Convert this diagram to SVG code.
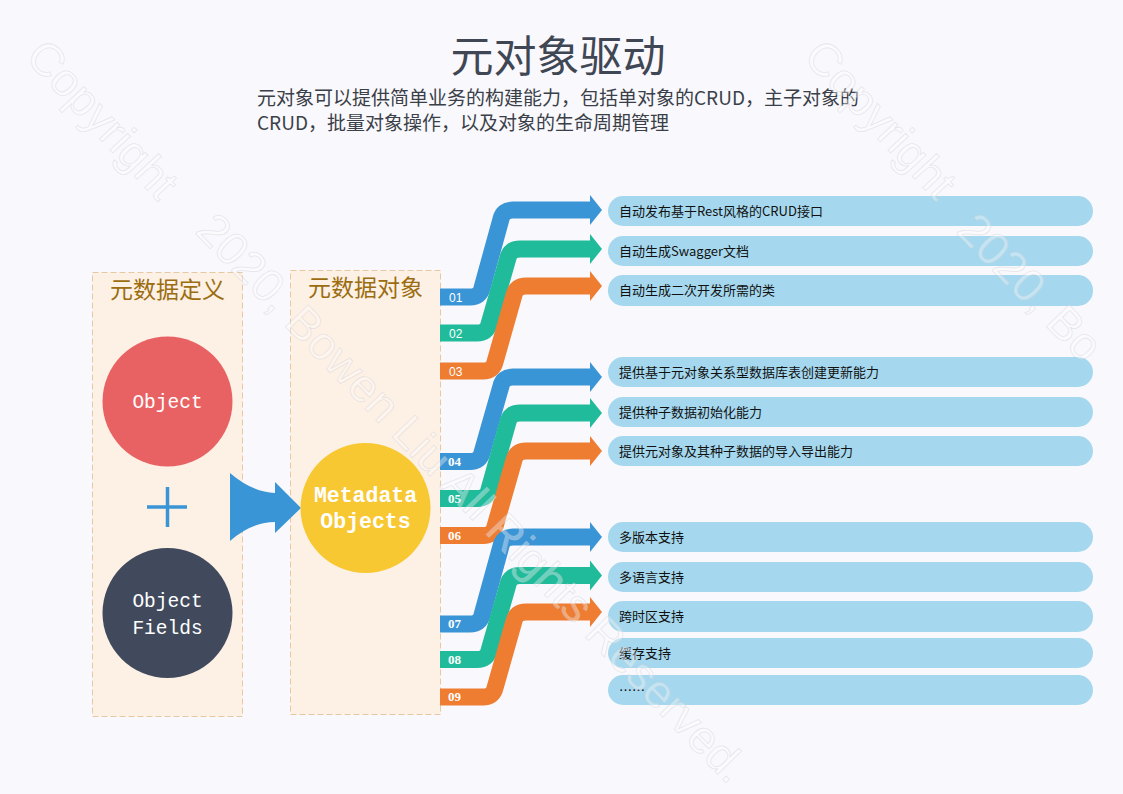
<svg xmlns="http://www.w3.org/2000/svg" width="1123" height="794" viewBox="0 0 1123 794">
<style>
.bg{fill:#f9f8fc}
.panel{fill:#fdf1e6;stroke:#e6c9a2;stroke-width:1;stroke-dasharray:6 3}
.ptitle{font-family:"Noto Sans CJK SC",sans-serif;font-size:23px;fill:#9c6d10;text-anchor:middle}
.ctext{font-family:"Liberation Mono",monospace;font-size:19.5px;fill:#ffffff;text-anchor:middle}
.mtext{font-family:"Liberation Mono",monospace;font-size:21.5px;font-weight:bold;fill:#ffffff;text-anchor:middle}
.rib{fill:none;stroke-width:17;stroke-linejoin:round}
.blue{stroke:#3a95d6}.green{stroke:#1fbb9b}.orange{stroke:#ee7d32}
.hb{fill:#3a95d6}.hg{fill:#1fbb9b}.ho{fill:#ee7d32}
.tl{font-family:"Liberation Sans",sans-serif;font-size:12px;fill:#ffffff}
.tb{font-family:"Liberation Serif",serif;font-size:13px;font-weight:bold;fill:#ffffff}
.box{fill:#a5d8ee}
.btext{font-family:"Noto Sans CJK SC",sans-serif;font-size:13px;fill:#111111}
.sub{font-family:"Noto Sans CJK SC",sans-serif;font-size:19px;fill:#3a3f48}
.wm{font-family:"Liberation Sans",sans-serif;font-size:46px;fill:#ffffff;fill-opacity:0.35;stroke:#c8c8d0;stroke-opacity:0.4;stroke-width:0.8}
</style>
<rect class="bg" x="0" y="0" width="1123" height="794"/>

<g id="title">
<text x="558" y="72" font-family="'Noto Sans CJK SC',sans-serif" font-size="43" fill="#3f4654" text-anchor="middle">元对象驱动</text>
<text class="sub" x="257" y="105">元对象可以提供简单业务的构建能力，包括单对象的CRUD，主子对象的</text>
<text class="sub" x="257" y="130">CRUD，批量对象操作，以及对象的生命周期管理</text>
</g>

<g id="panel-definition">
<rect class="panel" x="92.5" y="272.5" width="150" height="444"/>
<text class="ptitle" x="167.5" y="298">元数据定义</text>
</g>
<g id="panel-objects">
<rect class="panel" x="290.5" y="270.5" width="150" height="444"/>
<text class="ptitle" x="365.5" y="296">元数据对象</text>
</g>

<g id="node-object">
<circle cx="167.5" cy="401.5" r="65" fill="#e96263"/>
<text class="ctext" x="167.5" y="408">Object</text>
</g>
<g id="plus">
<path d="M147,507 H187 M167.5,487 V527" stroke="#3a95d6" stroke-width="3.5" fill="none"/>
</g>
<g id="node-fields">
<circle cx="167.5" cy="613" r="65" fill="#414a5c"/>
<text class="ctext" x="167.5" y="607">Object</text>
<text class="ctext" x="167.5" y="634">Fields</text>
</g>
<g id="big-arrow">
<path d="M230,473 Q252,492 275,493 L275,482 L301,508 L275,533 L275,522 Q252,522 230,541 Z" fill="#3a95d6"/>
</g>
<g id="node-metadata">
<circle cx="365.5" cy="508" r="65" fill="#f8c832"/>
<text class="mtext" x="365.5" y="502">Metadata</text>
<text class="mtext" x="365.5" y="528">Objects</text>
</g>

<g id="connectors">
<path class="rib blue" d="M440,297 H470 Q480,297 482,288 L501,219 Q503,210 513,210 H592"/>
<polygon class="hb" points="590,195 602,210 590,225"/>
<path class="rib green" d="M440,333 H477 Q487,333 489,324 L508,258 Q510,249 520,249 H592"/>
<polygon class="hg" points="590,234 602,249 590,264"/>
<path class="rib orange" d="M440,371 H483 Q493,371 495,362 L514,295 Q516,286 526,286 H592"/>
<polygon class="ho" points="590,271 602,286 590,301"/>

<path class="rib blue" d="M440,461.5 H470 Q480,461.5 482,452.5 L501,386 Q503,377 513,377 H592"/>
<polygon class="hb" points="590,362 602,377 590,392"/>
<path class="rib green" d="M440,498.5 H477 Q487,498.5 489,489.5 L508,422 Q510,413 520,413 H592"/>
<polygon class="hg" points="590,398 602,413 590,428"/>
<path class="rib orange" d="M440,535.5 H483 Q493,535.5 495,526.5 L514,460 Q516,451 526,451 H592"/>
<polygon class="ho" points="590,436 602,451 590,466"/>

<path class="rib blue" d="M440,624 H470 Q480,624 482,615 L501,546 Q503,537 513,537 H592"/>
<polygon class="hb" points="590,522 602,537 590,552"/>
<path class="rib green" d="M440,659.5 H477 Q487,659.5 489,650.5 L508,584.5 Q510,575.5 520,575.5 H592"/>
<polygon class="hg" points="590,560.5 602,575.5 590,590.5"/>
<path class="rib orange" d="M440,697 H483 Q493,697 495,688 L514,621 Q516,612 526,612 H592"/>
<polygon class="ho" points="590,597 602,612 590,627"/>

<text class="tl" x="449" y="302">01</text>
<text class="tl" x="449" y="338">02</text>
<text class="tl" x="449" y="376">03</text>
<text class="tb" x="448" y="466">04</text>
<text class="tb" x="448" y="503">05</text>
<text class="tb" x="448" y="540">06</text>
<text class="tb" x="448" y="628">07</text>
<text class="tb" x="448" y="664">08</text>
<text class="tb" x="448" y="701">09</text>
</g>

<g id="item-1"><rect class="box" x="608" y="196" width="485" height="30" rx="15"/><text class="btext" x="619" y="215.5">自动发布基于Rest风格的CRUD接口</text></g>
<g id="item-2"><rect class="box" x="608" y="236" width="485" height="30" rx="15"/><text class="btext" x="619" y="255.5">自动生成Swagger文档</text></g>
<g id="item-3"><rect class="box" x="608" y="275" width="485" height="31" rx="15"/><text class="btext" x="619" y="295">自动生成二次开发所需的类</text></g>
<g id="item-4"><rect class="box" x="608" y="357" width="485" height="30" rx="15"/><text class="btext" x="619" y="376.5">提供基于元对象关系型数据库表创建更新能力</text></g>
<g id="item-5"><rect class="box" x="608" y="397" width="485" height="30" rx="15"/><text class="btext" x="619" y="416.5">提供种子数据初始化能力</text></g>
<g id="item-6"><rect class="box" x="608" y="436" width="485" height="30" rx="15"/><text class="btext" x="619" y="455.5">提供元对象及其种子数据的导入导出能力</text></g>
<g id="item-7"><rect class="box" x="608" y="522" width="485" height="30" rx="15"/><text class="btext" x="619" y="541.5">多版本支持</text></g>
<g id="item-8"><rect class="box" x="608" y="562" width="485" height="30" rx="15"/><text class="btext" x="619" y="581.5">多语言支持</text></g>
<g id="item-9"><rect class="box" x="608" y="601" width="485" height="31" rx="15"/><text class="btext" x="619" y="621">跨时区支持</text></g>
<g id="item-10"><rect class="box" x="608" y="638" width="485" height="30" rx="15"/><text class="btext" x="619" y="657.5">缓存支持</text></g>
<g id="item-11"><rect class="box" x="608" y="675" width="485" height="30" rx="15"/><text class="btext" x="619" y="694.5">……</text></g>

<g id="watermark">
<text class="wm" transform="translate(24,58) rotate(47)">Copyright</text>
<text class="wm" transform="translate(194,232) rotate(46)">2020, Bowen Liu All Rights Reserved.</text>
<text class="wm" transform="translate(802,58) rotate(47)">Copyright</text>
<text class="wm" transform="translate(955,232) rotate(46)">2020, Bo</text>
</g>
</svg>
